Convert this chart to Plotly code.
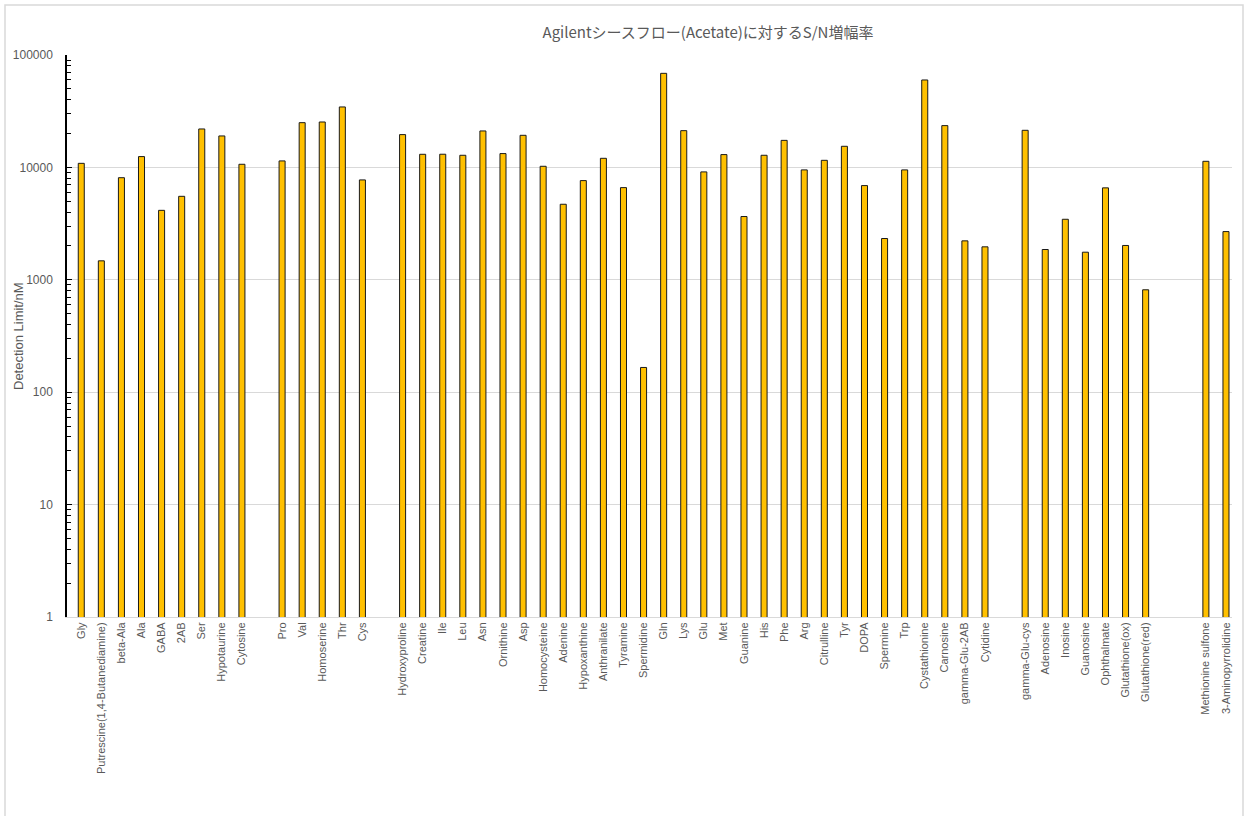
import plotly.graph_objects as go

# Compound names in plotting order; "" marks an empty slot between groups
labels = [
    "Gly", "Putrescine(1,4-Butanediamine)", "beta-Ala", "Ala", "GABA", "2AB", "Ser",
    "Hypotaurine", "Cytosine", "",
    "Pro", "Val", "Homoserine", "Thr", "Cys", "",
    "Hydroxyproline", "Creatine", "Ile", "Leu", "Asn", "Ornithine", "Asp",
    "Homocysteine", "Adenine", "Hypoxanthine", "Anthranilate", "Tyramine",
    "Spermidine", "Gln", "Lys", "Glu", "Met", "Guanine", "His", "Phe", "Arg",
    "Citrulline", "Tyr", "DOPA", "Spermine", "Trp", "Cystathionine", "Carnosine",
    "gamma-Glu-2AB", "Cytidine", "",
    "gamma-Glu-cys", "Adenosine", "Inosine", "Guanosine", "Ophthalmate",
    "Glutathione(ox)", "Glutathione(red)", "", "",
    "Methionine sulfone", "3-Aminopyrrolidine",
]

# Detection limit (nM); None for the empty slots
values = [
    10870, 1475, 8100, 12480, 4150, 5530, 21980, 19050, 10660, None,
    11420, 25000, 25350, 34500, 7740, None,
    19580, 13080, 13100, 12820, 21100, 13270, 19300, 10230, 4700, 7630,
    12050, 6610, 166, 68700, 21230, 9120, 13000, 3655, 12820, 17400, 9500,
    11560, 15410, 6890, 2330, 9500, 59950, 23540, 2220, 1965, None,
    21380, 1860, 3455, 1760, 6575, 2020, 815, None, None,
    11330, 2685,
]

y_tickvals = [1, 10, 100, 1000, 10000, 100000]
y_ticktext = ["1", "10", "100", "1000", "10000", "100000"]

title_text = "Agilentシースフロー(Acetate)に対するS/N増幅率"
y_title = "Detection Limit/nM"

positions = list(range(len(labels)))
gray_text = "#595959"

fig = go.Figure(
    go.Bar(
        x=positions,
        y=values,
        width=0.3,
        marker=dict(color="#FFC000", line=dict(color="#1a1a1a", width=1)),
        hoverinfo="x+y",
    )
)

W, H = 1248, 816
L, R, T, B = 67, 16, 55, 199
pw, ph = W - L - R, H - T - B

fig.update_layout(
    width=W,
    height=H,
    margin=dict(l=L, r=R, t=T, b=B),
    paper_bgcolor="white",
    plot_bgcolor="white",
    showlegend=False,
    font=dict(family="Liberation Sans", color=gray_text, size=11),
    title=dict(
        text=title_text,
        font=dict(family="Noto Sans CJK JP", size=15, color=gray_text),
        x=708 / W,
        xanchor="center",
        y=1 - 33 / H,
        yanchor="middle",
    ),
    xaxis=dict(
        range=[-0.71, 57.3],
        tickmode="array",
        tickvals=positions,
        ticktext=labels,
        tickangle=-90,
        ticks="",
        showgrid=False,
        showline=True,
        linecolor="#d9d9d9",
        linewidth=1,
        zeroline=False,
        tickfont=dict(size=11, color=gray_text),
    ),
    yaxis=dict(
        type="log",
        range=[0, 5],
        tickmode="array",
        tickvals=y_tickvals,
        ticktext=y_ticktext,
        ticks="inside",
        ticklen=5,
        tickcolor="black",
        ticklabelstandoff=10,
        showline=True,
        linecolor="black",
        linewidth=1.5,
        showgrid=True,
        gridcolor="#d9d9d9",
        gridwidth=1,
        zeroline=False,
        tickfont=dict(size=12, color=gray_text),
        minor=dict(ticks="inside", ticklen=4, tickcolor="black", dtick="D1", showgrid=False),
    ),
    shapes=[
        dict(
            type="rect", xref="paper", yref="paper",
            x0=(5 - L) / pw, x1=(1243 - L) / pw,
            y0=-0.5, y1=(H - B - 5) / ph,
            line=dict(color="#d9d9d9", width=1.5),
            fillcolor="rgba(0,0,0,0)",
            layer="below",
        )
    ],
    annotations=[
        dict(
            text=y_title, xref="paper", yref="paper",
            x=(18 - L) / pw, y=0.5, textangle=-90,
            showarrow=False, xanchor="center", yanchor="middle",
            font=dict(size=13, color=gray_text),
        )
    ],
)

fig.write_html("out.html")
